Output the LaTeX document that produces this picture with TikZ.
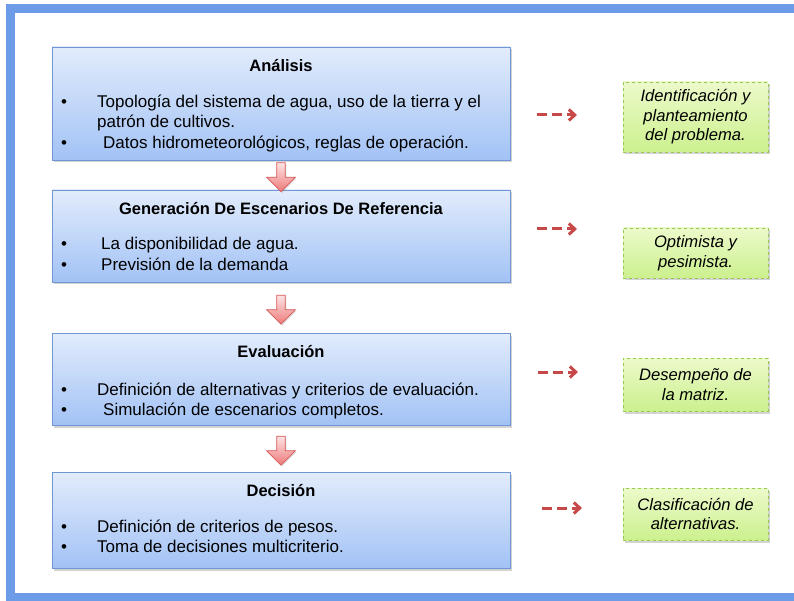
\documentclass[tikz,border=0pt]{standalone}
\usepackage{fontspec}
\setmainfont{Liberation Sans}
\definecolor{boxtop}{RGB}{226, 236, 252}
\definecolor{boxbot}{RGB}{162, 194, 245}
\definecolor{boxline}{RGB}{112, 150, 212}
\definecolor{greentop}{RGB}{236, 250, 202}
\definecolor{greenbot}{RGB}{204, 240, 142}
\definecolor{greenline}{RGB}{150, 200, 80}
\definecolor{pinktop}{RGB}{253, 228, 228}
\definecolor{pinkbot}{RGB}{238, 122, 122}
\definecolor{pinkline}{RGB}{215, 88, 88}
\definecolor{dashred}{RGB}{198, 72, 72}
\definecolor{frameblue}{RGB}{108, 156, 232}
\usetikzlibrary{arrows.meta,shapes.arrows,shadows,positioning,calc}

\begin{document}
\begin{tikzpicture}[x=1pt, y=-1pt,
    stagebox/.style={draw=boxline, line width=0.8pt, top color=boxtop, bottom color=boxbot,
        minimum width=458pt, drop shadow={opacity=0.35, shadow xshift=1.5pt, shadow yshift=-2.5pt}},
    resultbox/.style={draw=greenline, dashed, line width=0.8pt, top color=greentop, bottom color=greenbot,
        minimum width=145pt, align=center, font=\fontsize{16.6}{19.5}\selectfont\itshape,
        drop shadow={opacity=0.35, shadow xshift=1.5pt, shadow yshift=-2.5pt}},
    downarrow/.style={single arrow, shape border rotate=270, draw=pinkline, line width=0.8pt,
        top color=pinktop, bottom color=pinkbot, minimum height=29pt, minimum width=29pt,
        inner sep=3pt, single arrow head extend=8pt,
        drop shadow={opacity=0.25, shadow xshift=1pt, shadow yshift=-1.5pt}},
    dasharrow/.style={dashred, line width=3pt, dash pattern=on 10pt off 5pt,
        -{Straight Barb[length=6pt, width=11pt]}},
    titletext/.style={font=\fontsize{16.5}{19}\selectfont\bfseries},
    itemtext/.style={font=\fontsize{17}{20}\selectfont, anchor=base west, inner sep=0pt}]
    \clip (0,0) rectangle (794,601);
    % outer frame
    \draw[frameblue, line width=9pt] (10,9) rectangle (840,597);
    % stage boxes
    \foreach \i/\yc/\h/\title in {1/103.5/113/Análisis, 2/236/92/Generación De Escenarios De Referencia,
        3/379/92/Evaluación, 4/520/96/Decisión} {
        \node[stagebox, minimum height=\h] (a\i) at (281,\yc) {};
        \node[titletext, below=9pt of a\i.north] (t\i) {\title};
    }
    % bullet lines
    \foreach \n/\y/\x/\txt in {1/108/97/{Topología del sistema de agua, uso de la tierra y el},
        2/128/97/{patrón de cultivos.}, 3/149/103/{Datos hidrometeorológicos, reglas de operación.},
        4/250/101/{La disponibilidad de agua.}, 5/271/101/{Previsión de la demanda},
        6/395/97/{Definición de alternativas y criterios de evaluación.},
        7/415/103/{Simulación de escenarios completos.},
        8/532/97/{Definición de criterios de pesos.}, 9/552/97/{Toma de decisiones multicriterio.}} {
        \node[itemtext] (l\n) at (\x,\y) {\txt};
    }
    \foreach \n/\y in {1/108, 3/149, 4/250, 5/271, 6/395, 7/415, 8/532, 9/552}
        \node[itemtext] (b\n) at (61,\y) {\textbullet};
    % flow between stages
    \foreach \i/\j in {1/2, 2/3, 3/4}
        \node[downarrow] (d\i) at ($(a\i.south)!0.5!(a\j.north)$) {};
    % results
    \foreach \i/\yc/\h/\ya/\xa/\txt in {1/117/70/115/537/{Identificación y\\planteamiento\\del problema.},
        2/253/50/229/537/{Optimista y\\pesimista.}, 3/384.5/53/372/538/{Desempeño de\\la matriz.},
        4/514/52/508/542/{Clasificación de\\alternativas.}} {
        \node[resultbox, minimum height=\h] (g\i) at (695.5,\yc) {\txt};
        \coordinate (s\i) at (\xa,\ya);
        \coordinate (e\i) at ($(s\i)+(40,0)$);
        \draw[dasharrow] (s\i) -- (e\i);
    }
\end{tikzpicture}
\end{document}
